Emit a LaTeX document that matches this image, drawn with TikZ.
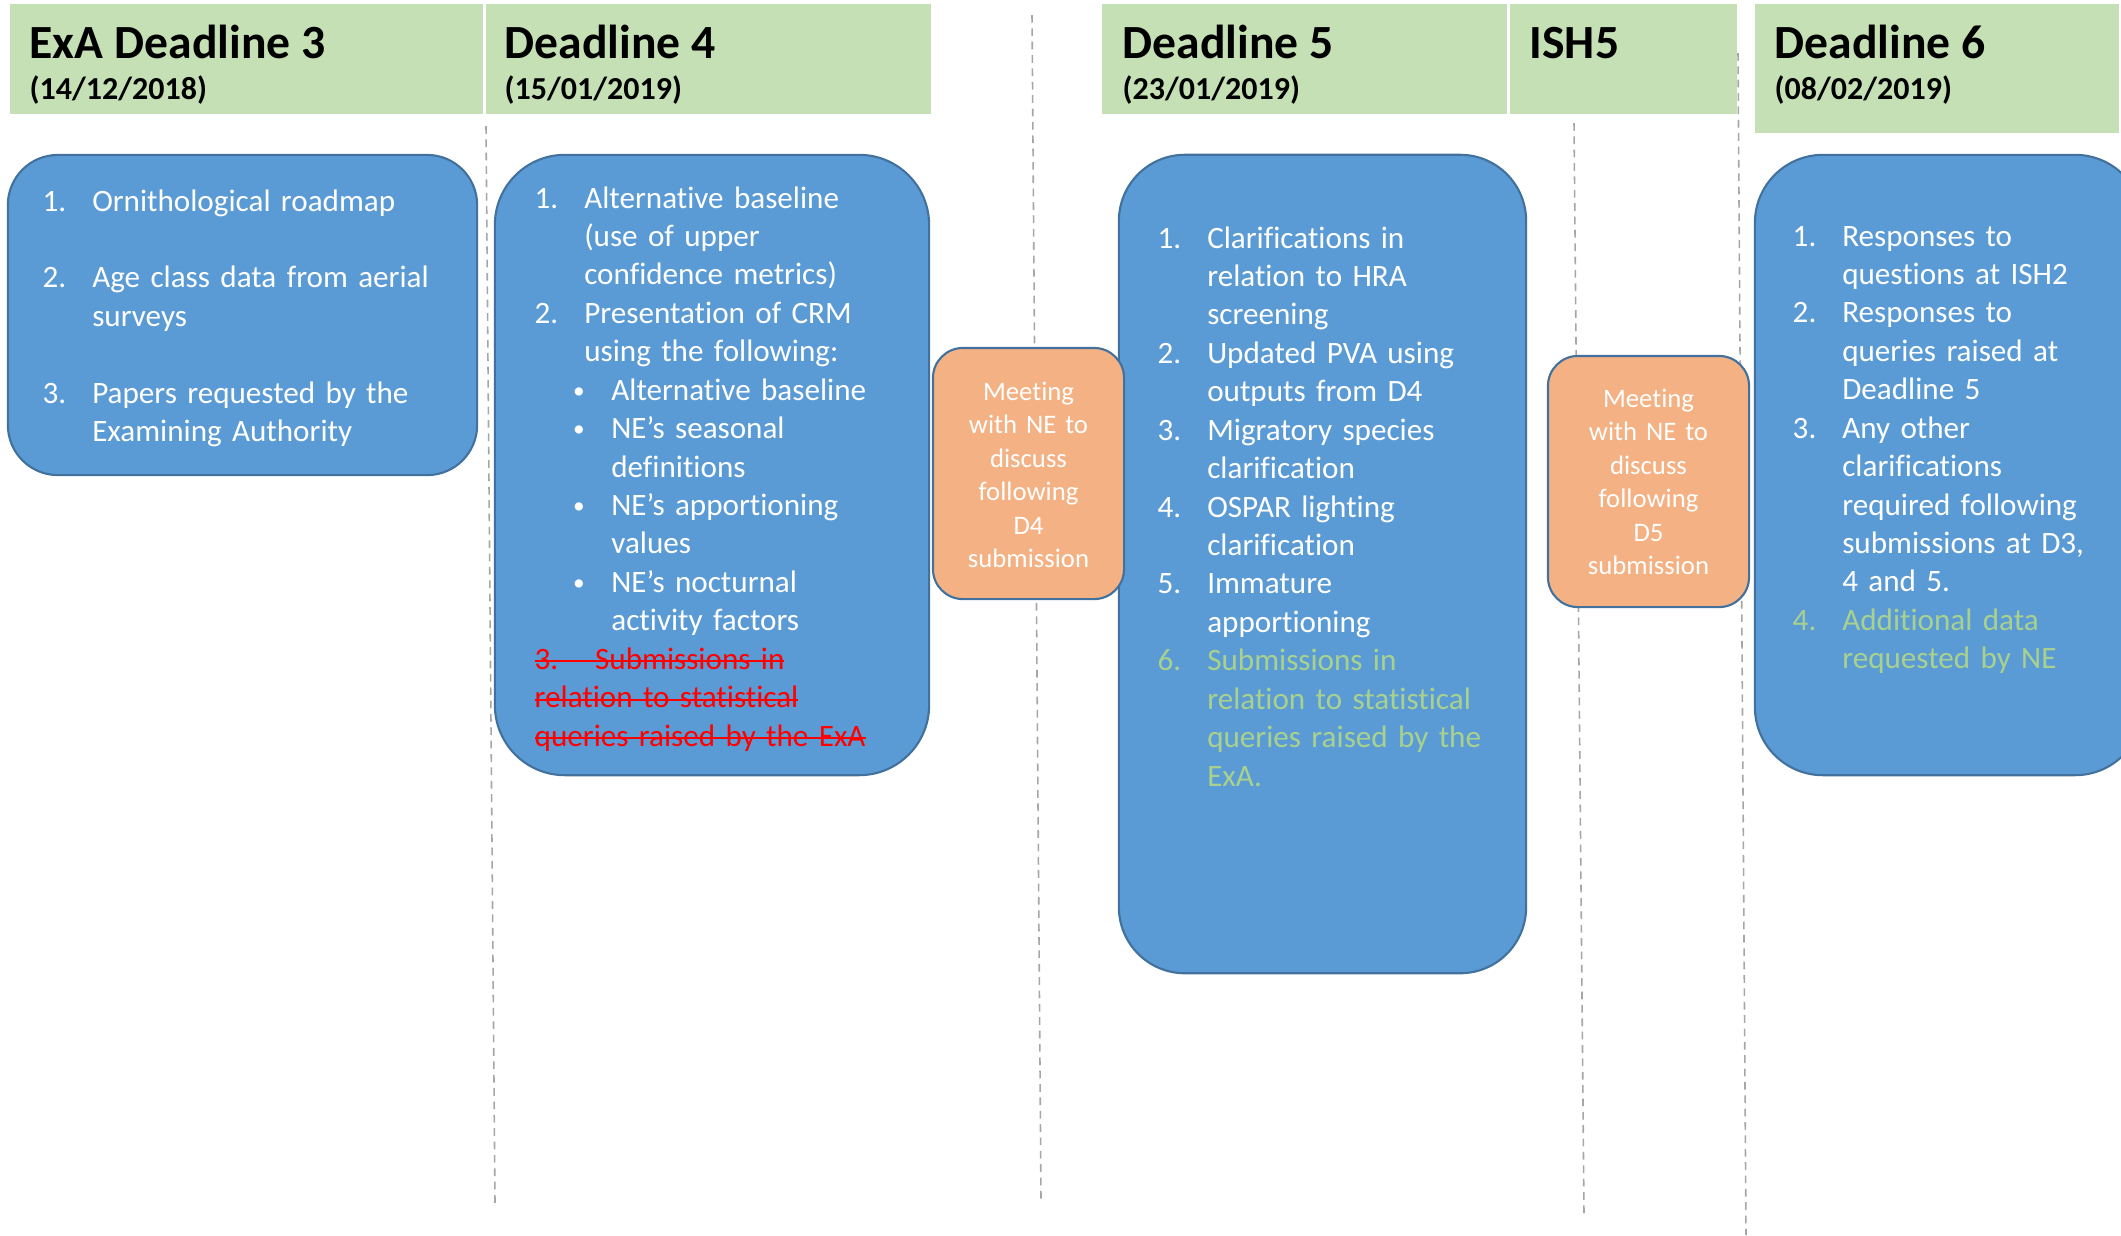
\documentclass[tikz,border=0pt]{standalone}
\usepackage{fontspec}
\setmainfont{Carlito}
\newfontfamily\bodyfont[Ligatures=NoCommon]{Carlito}
\usepackage{xcolor}
\usepackage{graphicx}

\definecolor{hdrgreen}{HTML}{C5E0B4}
\definecolor{boxblue}{HTML}{5B9BD5}
\definecolor{edgeblue}{HTML}{41719C}
\definecolor{meetorange}{HTML}{F4B183}
\definecolor{itemgreen}{HTML}{A9D18E}
\definecolor{sepgray}{HTML}{A6A6A6}

\newsavebox\strkbox
\newcommand\strk[1]{\sbox\strkbox{#1}\rlap{\rule[.23em]{\wd\strkbox}{.065em}}\usebox\strkbox}
\newcommand\numit[2]{\makebox[14.1pt][l]{#1}#2}
\newcommand\contit[1]{\hspace*{14.1pt}#1}
\newcommand\bulit[1]{\hspace*{10.9pt}\makebox[10.9pt][l]{\raisebox{.07em}{\scalebox{.75}{•}}}#1}
\newcommand\bulcont[1]{\hspace*{21.8pt}#1}
\newcommand\gr[1]{\textcolor{itemgreen}{#1}}

\tikzset{
 hdr/.style={fill=hdrgreen,inner sep=0,outer sep=0},
 bluebox/.style={draw=edgeblue,fill=boxblue,line width=0.6pt,
     rounded corners=#1,inner sep=0},
 meetbox/.style={draw=edgeblue,fill=meetorange,line width=0.6pt,
     rounded corners=0.3cm,inner sep=0},
 sep/.style={sepgray,line width=0.45pt,dash pattern=on 2.2pt off 1.6pt},
 ttl/.style={anchor=base west,inner sep=0,
     font=\bfseries\fontsize{13.55pt}{16pt}\selectfont},
 dte/.style={anchor=base west,inner sep=0,
     font=\bfseries\fontsize{9.1pt}{11pt}\selectfont},
 itemtxt/.style={anchor=base west,inner sep=0,text width=5cm,align=left,
     text=white,font=\bodyfont\fontsize{8.85pt}{10.93pt}\selectfont},
 meettxt/.style={anchor=base,inner sep=0,text width=1.9cm,align=center,
     text=white,font=\bodyfont\fontsize{7.6pt}{9.53pt}\selectfont}
}

\begin{document}
\begin{tikzpicture}[x=0.01cm,y=-0.01cm]
 \useasboundingbox (0,0) rectangle (2121,1235);
 \clip (0,0) rectangle (2121,1235);
 % headers
 \node[hdr,minimum width=4.73cm,minimum height=1.1cm] (h1) at (246.5,59) {};
 \node[hdr,minimum width=4.45cm,minimum height=1.1cm] (h2) at (708.5,59) {};
 \node[hdr,minimum width=4.05cm,minimum height=1.1cm] (h3) at (1304.5,59) {};
 \node[hdr,minimum width=2.27cm,minimum height=1.1cm] (h4) at (1623.5,59) {};
 \node[hdr,minimum width=3.64cm,minimum height=1.29cm] (h5) at (1937,68.5) {};
 \node[ttl] (t1) at (29,58) {ExA Deadline 3};
 \node[dte] (d1) at (29,99) {(14/12/2018)};
 \node[ttl] (t2) at (504,58) {Deadline 4};
 \node[dte] (d2) at (504,99) {(15/01/2019)};
 \node[ttl] (t3) at (1122,58) {Deadline 5};
 \node[dte] (d3) at (1122,99) {(23/01/2019)};
 \node[ttl] (t4) at (1529,58) {ISH5};
 \node[ttl] (t5) at (1774,58) {Deadline 6};
 \node[dte] (d5) at (1774,99) {(08/02/2019)};
 % separators
 \draw[sep] (486,126) -- (495,1203);
 \draw[sep] (1032,15) -- (1041,1200);
 \draw[sep] (1574,123) -- (1584,1215);
 \draw[sep] (1738,53) -- (1746,1235);
 % boxes
 \node[bluebox=0.5cm,minimum width=4.69cm,minimum height=3.2cm] (b1) at (242.5,315) {};
 \node[bluebox=0.7cm,minimum width=4.34cm,minimum height=6.2cm] (b2) at (712,465) {};
 \node[bluebox=0.66cm,minimum width=4.07cm,minimum height=8.18cm] (b3) at (1322.5,564) {};
 \node[bluebox=0.68cm,minimum width=3.88cm,minimum height=6.2cm] (b4) at (1949,465) {};
 \node[meetbox,minimum width=1.91cm,minimum height=2.51cm] (o1) at (1028.5,473.5) {};
 \node[meetbox,minimum width=2.01cm,minimum height=2.51cm] (o2) at (1648.5,481.5) {};
 % texts
 \node[itemtxt] (l1) at (42,211) {\numit{1.}{Ornithological roadmap}\\[10.93pt]
   \numit{2.}{Age class data from aerial}\\ \contit{surveys}\\[10.93pt]
   \numit{3.}{Papers requested by the}\\ \contit{Examining Authority}};
 \node[itemtxt] (l2) at (534,208) {\numit{1.}{Alternative baseline}\\
   \contit{(use of upper}\\ \contit{confidence metrics)}\\
   \numit{2.}{Presentation of CRM}\\ \contit{using the following:}\\
   \bulit{Alternative baseline}\\
   \bulit{NE’s seasonal}\\ \bulcont{definitions}\\
   \bulit{NE’s apportioning}\\ \bulcont{values}\\
   \bulit{NE’s nocturnal}\\ \bulcont{activity factors}\\
   \textcolor{red}{\strk{\makebox[17.2pt][l]{3.}Submissions in}}\\
   \textcolor{red}{\strk{relation to statistical}}\\
   \textcolor{red}{\strk{queries raised by the ExA}}};
 \node[itemtxt] (l3) at (1157,248) {\numit{1.}{Clarifications in}\\
   \contit{relation to HRA}\\ \contit{screening}\\
   \numit{2.}{Updated PVA using}\\ \contit{outputs from D4}\\
   \numit{3.}{Migratory species}\\ \contit{clarification}\\
   \numit{4.}{OSPAR lighting}\\ \contit{clarification}\\
   \numit{5.}{Immature}\\ \contit{apportioning}\\
   \numit{\gr{6.}}{\gr{Submissions in}}\\ \contit{\gr{relation to statistical}}\\
   \contit{\gr{queries raised by the}}\\ \contit{\gr{ExA.}}};
 \node[itemtxt] (l4) at (1792,246) {\numit{1.}{Responses to}\\
   \contit{questions at ISH2}\\
   \numit{2.}{Responses to}\\ \contit{queries raised at}\\ \contit{Deadline 5}\\
   \numit{3.}{Any other}\\ \contit{clarifications}\\ \contit{required following}\\
   \contit{submissions at D3,}\\ \contit{4 and 5.}\\
   \numit{\gr{4.}}{\gr{Additional data}}\\ \contit{\gr{requested by NE}}};
 \node[meettxt] (m1) at (1028.5,400) {Meeting\\ with NE to\\ discuss\\ following\\ D4\\ submission};
 \node[meettxt] (m2) at (1648.5,407) {Meeting\\ with NE to\\ discuss\\ following\\ D5\\ submission};
\end{tikzpicture}
\end{document}
